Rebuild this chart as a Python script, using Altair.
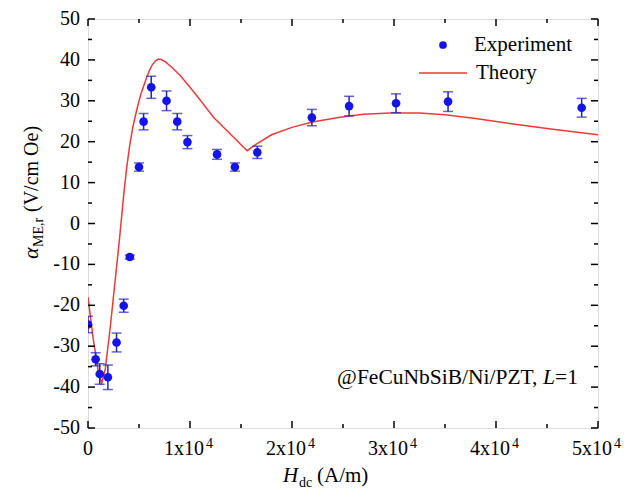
import altair as alt
import pandas as pd

# ---------------- data ----------------
exp_h = [0, 750, 1150, 1950, 2800, 3500, 4100, 5000, 5450, 6200, 7700, 8750, 9750,
         12650, 14400, 16600, 21950, 25600, 30200, 35300, 48400]
exp_a = [-24.7, -33.2, -36.8, -37.6, -29.1, -20.1, -8.2, 13.8, 24.9, 33.3, 30.0, 24.9, 19.9,
         16.9, 13.8, 17.4, 25.9, 28.7, 29.4, 29.8, 28.3]
exp_err = [2.0, 1.6, 2.5, 3.0, 2.3, 1.6, 0.5, 1.0, 2.0, 2.7, 2.4, 2.0, 1.6,
           1.2, 1.0, 1.5, 2.0, 2.4, 2.3, 2.4, 2.3]

th_h = [0, 500, 1000, 1350, 1700, 2200, 2700, 3100, 3500, 3800, 4100, 4400, 4800, 5200,
        5700, 6000, 6300, 6600, 6900, 7200, 7600, 8200, 9000, 10000, 11000, 12300, 13900,
        15600, 16500, 18000, 20000, 22000, 24700, 27000, 29600, 32500, 35000, 38000,
        41700, 45000, 50000]
th_a = [-18, -28, -36, -39, -35.5, -25, -13, -3.5, 7, 13.8, 19.3, 23.6, 28, 31.8,
        35.3, 37.3, 38.8, 39.7, 40.2, 40.1, 39.5, 38.2, 36.3, 33.3, 30.2, 26, 22,
        17.8, 19.4, 21.7, 23.5, 24.8, 26, 26.7, 27, 27, 26.6, 25.7,
        24.3, 23.2, 21.7]

x_major = [0, 10000, 20000, 30000, 40000, 50000]
x_minor = [5000, 15000, 25000, 35000, 45000]
x_lab_main = ["0", "1x10", "2x10", "3x10", "4x10", "5x10"]
x_lab_sup = ["", "4", "4", "4", "4", "4"]
y_major = [-50, -40, -30, -20, -10, 0, 10, 20, 30, 40, 50]
y_minor = [-45, -35, -25, -15, -5, 5, 15, 25, 35, 45]
y_lab = ["-50", "-40", "-30", "-20", "-10", "0", "10", "20", "30", "40", "50"]

W, H = 510, 409
FONT = "Liberation Serif, Times New Roman, Times, DejaVu Serif, serif"
FS = 21
LFS = 20
BLUE = "#1414ea"
BAR = "#2323b8"
RED = "#ec3a3a"

xs = alt.Scale(domain=[0, 50000], nice=False, zero=False)
ys = alt.Scale(domain=[-50, 50], nice=False, zero=False)

exp_df = pd.DataFrame({"h": exp_h, "a": exp_a, "e": exp_err})
exp_df["lo"] = exp_df["a"] - exp_df["e"]
exp_df["hi"] = exp_df["a"] + exp_df["e"]
th_df = pd.DataFrame({"h": th_h, "a": th_a})

X = lambda f: alt.X(f, scale=xs, axis=None)
Y = lambda f: alt.Y(f, scale=ys, axis=None)

# ---- tick labels (positioned through the scales) ----
xl_df = pd.DataFrame({"v": x_major, "m": x_lab_main, "s": x_lab_sup})
xl_zero = alt.Chart(xl_df[xl_df["v"] == 0]).mark_text(
    font=FONT, fontSize=LFS, align="center", baseline="alphabetic", color="black").encode(
    x=X("v:Q"), y=alt.value(H + 27), text="m:N")
xl_main = alt.Chart(xl_df[xl_df["v"] != 0]).mark_text(
    font=FONT, fontSize=LFS, align="right", baseline="alphabetic", color="black", dx=14).encode(
    x=X("v:Q"), y=alt.value(H + 27), text="m:N")
xl_sup = alt.Chart(xl_df[xl_df["v"] != 0]).mark_text(
    font=FONT, fontSize=14, align="left", baseline="alphabetic", color="black", dx=16).encode(
    x=X("v:Q"), y=alt.value(H + 20), text="s:N")
yl_df = pd.DataFrame({"v": y_major, "t": y_lab})
yl = alt.Chart(yl_df).mark_text(
    font=FONT, fontSize=LFS, align="right", baseline="middle", color="black").encode(
    y=Y("v:Q"), x=alt.value(-8), text="t:N")

def xticks(vals, length):
    df = pd.DataFrame({"v": vals})
    bot = alt.Chart(df).mark_rule(color="black", strokeWidth=1.5).encode(
        x=X("v:Q"), y=alt.value(H), y2=alt.value(H - length))
    top = alt.Chart(df).mark_rule(color="black", strokeWidth=1.5).encode(
        x=X("v:Q"), y=alt.value(0), y2=alt.value(length))
    return bot + top

def yticks(vals, length):
    df = pd.DataFrame({"v": vals})
    left = alt.Chart(df).mark_rule(color="black", strokeWidth=1.5).encode(
        y=Y("v:Q"), x=alt.value(0), x2=alt.value(length))
    right = alt.Chart(df).mark_rule(color="black", strokeWidth=1.5).encode(
        y=Y("v:Q"), x=alt.value(W), x2=alt.value(W - length))
    return left + right

theory = alt.Chart(th_df).mark_line(color=RED, strokeWidth=1.5, clip=True).encode(
    x=X("h:Q"), y=Y("a:Q"))

bars = alt.Chart(exp_df).mark_rule(color=BAR, strokeWidth=1.5, clip=True).encode(
    x=X("h:Q"), y=Y("lo:Q"), y2="hi:Q")
cap_lo = alt.Chart(exp_df).mark_tick(color=BAR, orient="horizontal", size=10, thickness=1.5, clip=True).encode(
    x=X("h:Q"), y=Y("lo:Q"))
cap_hi = alt.Chart(exp_df).mark_tick(color=BAR, orient="horizontal", size=10, thickness=1.5, clip=True).encode(
    x=X("h:Q"), y=Y("hi:Q"))
points = alt.Chart(exp_df).mark_circle(color=BLUE, size=75, opacity=1, clip=True).encode(
    x=X("h:Q"), y=Y("a:Q"))

one = pd.DataFrame({"k": [0]})

def txt(text, x, y, size=FS, align="left", baseline="middle", style="normal", angle=0):
    kw = dict(text=text, font=FONT, fontSize=size, align=align, baseline=baseline,
              fontStyle=style, color="black")
    if angle:
        kw["angle"] = angle
    return alt.Chart(one).mark_text(**kw).encode(x=alt.value(x), y=alt.value(y))

# legend
leg_dot = alt.Chart(one).mark_circle(color=BLUE, size=60, opacity=1).encode(
    x=alt.value(355), y=alt.value(26))
leg_line = alt.Chart(one).mark_rule(color=RED, strokeWidth=1.5).encode(
    x=alt.value(331), x2=alt.value(379), y=alt.value(54))
leg_t1 = txt("Experiment", 386, 26)
leg_t2 = txt("Theory", 388, 54)

# annotation
ann1 = txt("@FeCuNbSiB/Ni/PZT,", 449.5, 359, size=21.5, align="right")
ann2 = txt("L", 455, 359, size=21.5, style="italic")
ann3 = txt("=1", 467, 359, size=21.5)

# x title
xt1 = txt("H", 195, 463, style="italic", baseline="alphabetic")
xt2 = txt("dc", 211, 468, size=14, baseline="alphabetic")
xt3 = txt("(A/m)", 229, 463, baseline="alphabetic")

# y title (rotated)
yt1 = txt("\u03b1", -50, 240, size=22, style="italic", baseline="alphabetic", angle=270)
yt2 = txt("ME,r", -45, 228, size=14, baseline="alphabetic", angle=270)
yt3 = txt("(V/cm Oe)", -50, 193, size=20, baseline="alphabetic", angle=270)

chart = alt.layer(
    theory, bars, cap_lo, cap_hi, points,
    xticks(x_major, 7), xticks(x_minor, 4), yticks(y_major, 7), yticks(y_minor, 4),
    xl_zero, xl_main, xl_sup, yl,
    leg_dot, leg_line, leg_t1, leg_t2, ann1, ann2, ann3,
    xt1, xt2, xt3, yt1, yt2, yt3,
).properties(
    width=W, height=H,
    autosize=alt.AutoSizeParams(type="none"),
    padding={"left": 88, "top": 19, "right": 26, "bottom": 62},
).configure_view(
    stroke="black", strokeWidth=1.5
).configure(background="white")

chart.save("out.html", embed_options={"renderer": "svg", "actions": False})
